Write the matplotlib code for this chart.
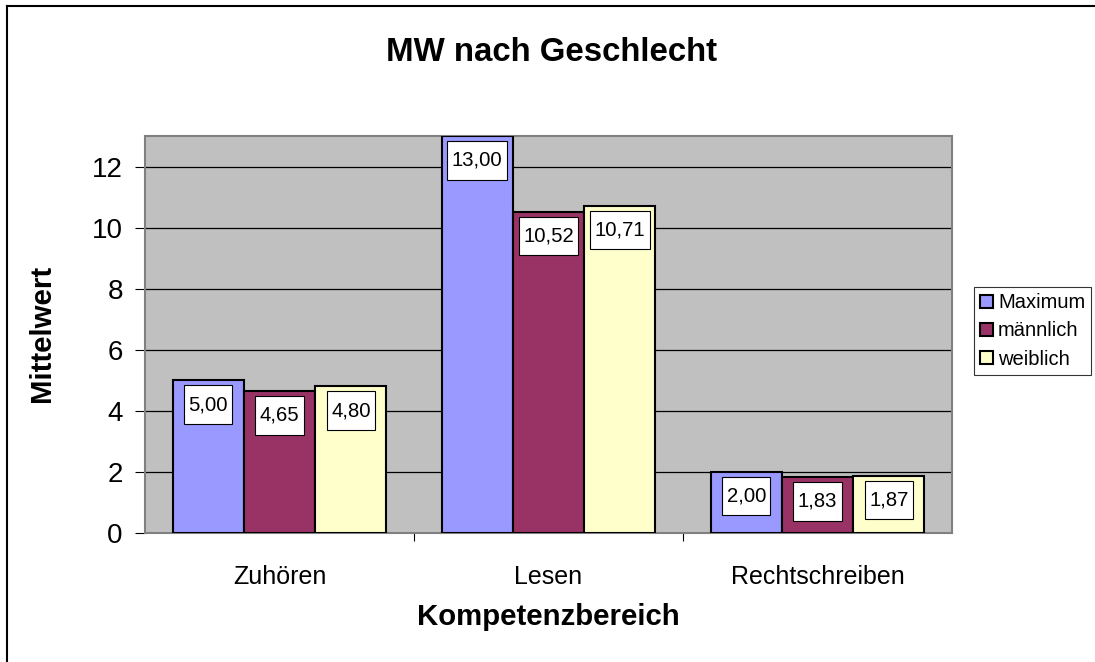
import matplotlib.pyplot as plt
from matplotlib.lines import Line2D
from matplotlib.path import Path
import numpy as np

# daten
bereiche = ["Zuhören", "Lesen", "Rechtschreiben"]
serien = ["Maximum", "männlich", "weiblich"]
maximum = [5.00, 13.00, 2.00]
maennlich = [4.65, 10.52, 1.83]
weiblich = [4.80, 10.71, 1.87]
werte = [maximum, maennlich, weiblich]
farben = ["#9999FF", "#993366", "#FFFFCC"]

plt.rcParams['font.family'] = ['Liberation Sans', 'DejaVu Sans']


def kasten(x0, y0, width, height, mutation_size):
    # rechteck mit getrenntem rand in x und y
    px = 0.22 * mutation_size
    py = 0.48 * mutation_size
    x0, y0 = x0 - px, y0 - py
    x1, y1 = x0 + width + 2 * px, y0 + height + 2 * py
    return Path([(x0, y0), (x1, y0), (x1, y1), (x0, y1), (x0, y0)], closed=True)


fig = plt.figure(figsize=(10.95, 6.62), dpi=100)
ax = fig.add_axes([0.1324, 0.1949, 0.7370, 0.5997])
ax.set_facecolor("#C0C0C0")

x = np.arange(len(bereiche))
breite = 0.265
for i in range(len(serien)):
    pos = x + (i - 1) * breite
    ax.bar(pos, werte[i], breite, color=farben[i], edgecolor="black",
           linewidth=1.5, label=serien[i], zorder=3)
    for xp, v in zip(pos, werte[i]):
        ax.annotate(f"{v:.2f}".replace(".", ","), (xp, v), xytext=(0, -17.5),
                    textcoords="offset points", ha="center", va="center",
                    fontsize=14.6, zorder=5,
                    bbox=dict(boxstyle=kasten, fc="white", ec="black", lw=0.8))

ax.set_xlim(-0.5, 2.5)
ax.set_ylim(0, 13)
ax.set_yticks(range(0, 13, 2))
ax.yaxis.grid(True, color="black", linewidth=0.9, zorder=1)
ax.set_axisbelow(True)
ax.tick_params(axis="y", labelsize=20, length=7, width=0.8, pad=9,
               direction="out")
ax.set_xticks(x)
ax.set_xticklabels(bereiche)
ax.tick_params(axis="x", which="major", length=0, labelsize=18, pad=23)
ax.set_xticks([0.5, 1.5], minor=True)
ax.tick_params(axis="x", which="minor", length=6, width=0.8, direction="out")
for s in ax.spines.values():
    s.set_color("#808080")
    s.set_linewidth(1.5)

fig.text(0.504, 0.921, "MW nach Geschlecht", ha="center", va="center",
         fontsize=23.8, fontweight="bold")
fig.text(0.501, 0.068, "Kompetenzbereich", ha="center", va="center",
         fontsize=21.2, fontweight="bold")
fig.text(0.038, 0.497, "Mittelwert", ha="center", va="center",
         rotation=90, fontsize=21.2, fontweight="bold")

leg = ax.legend(loc="center left", bbox_to_anchor=(0.8895, 0.5),
                bbox_transform=fig.transFigure, fontsize=14.5, frameon=True,
                fancybox=False, edgecolor="black", handlelength=0.65,
                handleheight=0.65, handletextpad=0.25, borderpad=0.3,
                labelspacing=0.45, borderaxespad=0)
leg.get_frame().set_linewidth(0.8)

# rahmen um das diagramm
fig.add_artist(Line2D([7 / 1095, 7 / 1095], [0, 1 - 6 / 662], color="black",
                      lw=1.5, transform=fig.transFigure))
fig.add_artist(Line2D([7 / 1095, 1], [1 - 6 / 662, 1 - 6 / 662], color="black",
                      lw=1.5, transform=fig.transFigure))

fig.savefig("out.png", dpi=100)
